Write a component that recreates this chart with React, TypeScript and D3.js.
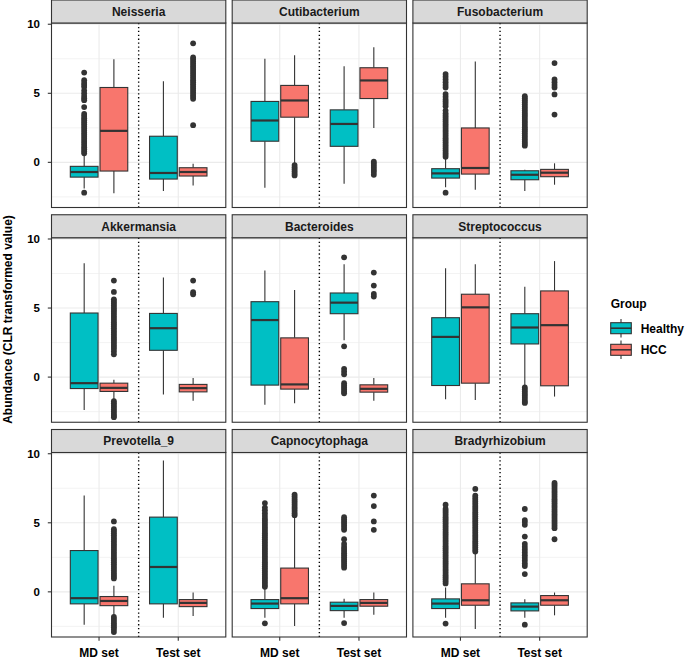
import React from "react";
import * as d3 from "d3";

// facet titles, x categories and fill groups
const genera = [
  "Neisseria",
  "Cutibacterium",
  "Fusobacterium",
  "Akkermansia",
  "Bacteroides",
  "Streptococcus",
  "Prevotella_9",
  "Capnocytophaga",
  "Bradyrhizobium",
];
const sets = ["MD set", "Test set"];
const groups = ["Healthy", "HCC"];
const groupColors = ["#00BFC4", "#F8766D"];
const yTicks = [0, 5, 10];
const yMinorTicks = [-2.5, 2.5, 7.5];

interface Box {
  set: number; // 0 = MD set, 1 = Test set
  group: number; // 0 = Healthy, 1 = HCC
  stats: number[]; // lower whisker, q1, median, q3, upper whisker
  out: number[];
}

const neisseria: Box[] = [
  { set: 0, group: 0, stats: [-1.9, -1.07, -0.7, -0.29, 0.55],
    out: [-2.2, 0.65, 0.8, 0.95, 1.1, 1.25, 1.4, 1.55, 1.7, 1.85, 2.0, 2.15, 2.3, 2.45, 2.6, 2.75, 2.9, 3.05, 3.2, 3.35, 3.5, 4.0, 4.5, 4.65, 4.8, 5.0, 5.2, 5.45, 5.6, 5.75, 5.95, 6.5] },
  { set: 0, group: 1, stats: [-2.23, -0.63, 2.28, 5.42, 7.46], out: [] },
  { set: 1, group: 0, stats: [-2.08, -1.21, -0.77, 1.89, 5.88], out: [] },
  { set: 1, group: 1, stats: [-1.67, -0.99, -0.7, -0.39, -0.1],
    out: [2.69, 4.6, 4.75, 4.9, 5.05, 5.2, 5.35, 5.5, 5.65, 5.8, 5.95, 6.1, 6.25, 6.4, 6.55, 6.7, 6.85, 7.0, 7.15, 7.3, 7.45, 7.6, 8.62] },
];

const cutibacterium: Box[] = [
  { set: 0, group: 0, stats: [-1.84, 1.53, 3.03, 4.41, 7.51], out: [] },
  { set: 0, group: 1, stats: [-0.05, 3.27, 4.48, 5.57, 7.75],
    out: [-0.2, -0.35, -0.5, -0.65, -0.8, -0.95] },
  { set: 1, group: 0, stats: [-1.55, 1.16, 2.78, 3.8, 6.95], out: [] },
  { set: 1, group: 1, stats: [2.49, 4.62, 5.93, 6.85, 8.33],
    out: [0.05, -0.1, -0.25, -0.4, -0.55, -0.7, -0.9] },
];

const fusobacterium: Box[] = [
  { set: 0, group: 0, stats: [-1.8, -1.14, -0.8, -0.46, 0.3],
    out: [-2.2, 0.4, 0.55, 0.7, 0.85, 1.0, 1.15, 1.3, 1.45, 1.6, 1.75, 1.9, 2.05, 2.2, 2.35, 2.5, 2.65, 2.8, 2.95, 3.1, 3.25, 3.4, 3.55, 3.75, 4.07, 4.25, 4.4, 4.55, 4.75, 4.94, 5.42, 5.6, 5.8, 6.0, 6.2, 6.39] },
  { set: 0, group: 1, stats: [-1.99, -0.85, -0.41, 2.49, 7.31], out: [] },
  { set: 1, group: 0, stats: [-2.08, -1.26, -0.9, -0.61, -0.53],
    out: [1.21, 1.35, 1.5, 1.65, 1.8, 1.95, 2.1, 2.25, 2.4, 2.55, 2.7, 2.85, 3.0, 3.15, 3.3, 3.45, 3.6, 3.75, 3.9, 4.05, 4.2, 4.35, 4.5, 4.65, 4.79] },
  { set: 1, group: 1, stats: [-1.62, -1.04, -0.75, -0.51, -0.07],
    out: [3.46, 4.92, 5.42, 5.6, 5.8, 6.0, 7.19] },
];

const akkermansia: Box[] = [
  { set: 0, group: 0, stats: [-2.38, -0.83, -0.44, 4.64, 8.25], out: [] },
  { set: 0, group: 1, stats: [-1.6, -1.04, -0.78, -0.44, -0.19],
    out: [6.99, 6.17, 5.63, 5.48, 5.33, 5.18, 5.03, 4.88, 4.73, 4.58, 4.43, 4.28, 4.13, 3.98, 3.83, 3.68, 3.53, 3.38, 3.23, 3.08, 2.93, 2.78, 2.63, 2.48, 2.33, 2.18, 2.03, 1.85, 1.65,
      -1.75, -1.9, -2.05, -2.2, -2.35, -2.5, -2.65, -2.8, -2.9] },
  { set: 1, group: 0, stats: [-1.26, 1.94, 3.54, 4.61, 7.21], out: [] },
  { set: 1, group: 1, stats: [-1.72, -1.07, -0.8, -0.53, -0.07],
    out: [6.0, 6.15, 6.99] },
];

const bacteroides: Box[] = [
  { set: 0, group: 0, stats: [-2.01, -0.58, 4.13, 5.46, 7.72], out: [] },
  { set: 0, group: 1, stats: [-1.89, -0.87, -0.53, 2.84, 6.31], out: [] },
  { set: 1, group: 0, stats: [2.67, 4.59, 5.39, 6.09, 8.18],
    out: [8.67, 2.23, 0.6, 0.4, 0.2, -0.44, -0.6, -0.75, -0.9, -1.05, -1.17] },
  { set: 1, group: 1, stats: [-1.72, -1.09, -0.85, -0.56, -0.07],
    out: [7.57, 6.63, 6.02, 5.83] },
];

const streptococcus: Box[] = [
  { set: 0, group: 0, stats: [-1.6, -0.61, 2.91, 4.3, 7.89], out: [] },
  { set: 0, group: 1, stats: [-1.65, -0.44, 5.05, 6.0, 8.18], out: [] },
  { set: 1, group: 0, stats: [-0.6, 2.4, 3.59, 4.59, 6.55],
    out: [-0.75, -0.9, -1.05, -1.2, -1.35, -1.5, -1.65, -1.8, -1.87] },
  { set: 1, group: 1, stats: [-1.41, -0.63, 3.76, 6.24, 8.4], out: [] },
];

const prevotella9: Box[] = [
  { set: 0, group: 0, stats: [-2.38, -0.87, -0.46, 2.99, 6.97], out: [] },
  { set: 0, group: 1, stats: [-1.7, -1.0, -0.66, -0.34, 0.44],
    out: [5.1, 4.54, 4.39, 4.24, 4.09, 3.94, 3.79, 3.64, 3.49, 3.34, 3.19, 3.04, 2.89, 2.74, 2.59, 2.44, 2.29, 2.14, 1.99, 1.84, 1.69, 1.54, 1.39, 1.24, 1.1, 0.97,
      -1.82, -1.97, -2.12, -2.27, -2.42, -2.57, -2.72, -2.91] },
  { set: 1, group: 0, stats: [-1.87, -0.87, 1.8, 5.41, 9.51], out: [] },
  { set: 1, group: 1, stats: [-1.75, -1.07, -0.8, -0.56, -0.05], out: [] },
];

const capnocytophaga: Box[] = [
  { set: 0, group: 0, stats: [-1.87, -1.21, -0.85, -0.56, 0.2],
    out: [-2.28, 0.36, 0.5, 0.65, 0.8, 0.95, 1.1, 1.25, 1.4, 1.55, 1.7, 1.85, 2.0, 2.15, 2.3, 2.45, 2.6, 2.75, 2.9, 3.05, 3.2, 3.35, 3.5, 3.65, 3.8, 3.95, 4.1, 4.25, 4.4, 4.55, 4.7, 4.85, 5.0, 5.15, 5.3, 5.5, 5.7, 5.9, 6.1, 6.43] },
  { set: 0, group: 1, stats: [-2.48, -0.87, -0.46, 1.72, 5.41],
    out: [5.55, 5.7, 5.85, 6.0, 6.15, 6.3, 6.45, 6.6, 6.75, 6.9, 7.04] },
  { set: 1, group: 0, stats: [-1.87, -1.36, -1.02, -0.75, -0.5],
    out: [-2.26, 1.75, 1.9, 2.05, 2.2, 2.35, 2.5, 2.65, 2.8, 2.95, 3.1, 3.25, 3.47, 3.81, 4.49, 4.65, 4.8, 4.95, 5.1, 5.25, 5.41] },
  { set: 1, group: 1, stats: [-1.65, -1.04, -0.8, -0.56, -0.05],
    out: [4.49, 5.1, 6.21, 6.97] },
];

const bradyrhizobium: Box[] = [
  { set: 0, group: 0, stats: [-1.87, -1.21, -0.85, -0.51, 0.32],
    out: [-2.3, 0.61, 0.76, 0.91, 1.06, 1.21, 1.36, 1.51, 1.66, 1.81, 1.96, 2.11, 2.26, 2.41, 2.56, 2.71, 2.86, 3.01, 3.16, 3.31, 3.46, 3.61, 3.76, 3.91, 4.06, 4.21, 4.36, 4.51, 4.66, 4.81, 4.96, 5.11, 5.26, 5.41, 5.56, 5.71, 5.86, 6.0, 6.31] },
  { set: 0, group: 1, stats: [-2.69, -0.97, -0.61, 0.58, 2.79],
    out: [2.92, 3.07, 3.22, 3.37, 3.52, 3.67, 3.82, 3.97, 4.12, 4.27, 4.42, 4.57, 4.72, 4.87, 5.02, 5.17, 5.32, 5.47, 5.62, 5.77, 5.92, 6.07, 6.22, 6.37, 6.52, 6.67, 6.82, 6.97, 7.45] },
  { set: 1, group: 0, stats: [-1.87, -1.38, -1.07, -0.8, -0.53],
    out: [-2.38, 1.29, 1.87, 2.05, 2.25, 2.45, 2.65, 2.85, 3.05, 3.25, 3.47, 4.0, 4.85, 5.05, 5.2, 6.0] },
  { set: 1, group: 1, stats: [-1.7, -0.97, -0.61, -0.27, -0.05],
    out: [3.81, 4.61, 4.76, 4.91, 5.06, 5.21, 5.36, 5.51, 5.66, 5.81, 5.96, 6.11, 6.26, 6.41, 6.56, 6.71, 6.86, 7.01, 7.16, 7.31, 7.46, 7.61, 7.76, 7.89] },
];

const panels = [
  neisseria, cutibacterium, fusobacterium,
  akkermansia, bacteroides, streptococcus,
  prevotella9, capnocytophaga, bradyrhizobium,
];

const W = 685;
const H = 664;
const panelLeft0 = 51.5;
const panelPitchX = 180.7;
const panelW = 174.3;
const panelTop0 = 23;
const panelPitchY = 214.75;
const panelH = 184.5;
const stripH = 23;
const font = "'Liberation Sans', Arial, Helvetica, sans-serif";
const dark = "#333333";

const Panel = ({ idx }: { idx: number }) => {
  const col = idx % 3;
  const row = Math.floor(idx / 3);
  const left = panelLeft0 + col * panelPitchX;
  const top = panelTop0 + row * panelPitchY;
  const x = d3.scaleLinear().domain([0.4, 2.6]).range([left, left + panelW]);
  const y = d3.scaleLinear().domain([-3.27, 10.09]).range([top + panelH, top]);
  const halfBox = x(0.175) - x(0);
  const dodge = 0.1875;

  return (
    <g>
      <rect x={left} y={top} width={panelW} height={panelH} fill="#fff" />
      {yMinorTicks.map((t) => (
        <line key={"mn" + t} x1={left} x2={left + panelW} y1={y(t)} y2={y(t)} stroke="#EBEBEB" strokeWidth={0.6} />
      ))}
      {yTicks.map((t) => (
        <line key={"mj" + t} x1={left} x2={left + panelW} y1={y(t)} y2={y(t)} stroke="#EBEBEB" strokeWidth={1.1} />
      ))}
      {sets.map((s, i) => (
        <line key={s} x1={x(i + 1)} x2={x(i + 1)} y1={top} y2={top + panelH} stroke="#EBEBEB" strokeWidth={1.1} />
      ))}
      <line x1={x(1.5)} x2={x(1.5)} y1={top} y2={top + panelH} stroke="#000" strokeWidth={1.4} strokeDasharray="1.3,2.6" />
      {panels[idx].map((b, bi) => {
        const cx = x(b.set + 1 + (b.group === 0 ? -dodge : dodge));
        const [lo, q1, med, q3, hi] = b.stats;
        return (
          <g key={bi}>
            <line x1={cx} x2={cx} y1={y(hi)} y2={y(q3)} stroke={dark} strokeWidth={1.1} />
            <line x1={cx} x2={cx} y1={y(q1)} y2={y(lo)} stroke={dark} strokeWidth={1.1} />
            <rect
              x={cx - halfBox}
              y={y(q3)}
              width={halfBox * 2}
              height={y(q1) - y(q3)}
              fill={groupColors[b.group]}
              stroke={dark}
              strokeWidth={1.1}
            />
            <line x1={cx - halfBox} x2={cx + halfBox} y1={y(med)} y2={y(med)} stroke={dark} strokeWidth={2.2} />
            {b.out.map((v, oi) => (
              <circle key={oi} cx={cx} cy={y(v)} r={2.9} fill={dark} />
            ))}
          </g>
        );
      })}
      <rect x={left} y={top} width={panelW} height={panelH} fill="none" stroke={dark} strokeWidth={1.1} />
      <rect x={left} y={top - stripH} width={panelW} height={stripH} fill="#D9D9D9" stroke={dark} strokeWidth={1.1} />
      <text
        x={left + panelW / 2}
        y={top - stripH / 2 + 4.3}
        textAnchor="middle"
        fontSize={12}
        fontWeight="bold"
        fill="#1a1a1a"
      >
        {genera[idx]}
      </text>
      {col === 0 &&
        yTicks.map((t) => (
          <g key={"yt" + t}>
            <line x1={left - 3.7} x2={left} y1={y(t)} y2={y(t)} stroke={dark} strokeWidth={1.1} />
            <text x={left - 11.5} y={y(t) + 4} textAnchor="end" fontSize={11.5} fontWeight="bold" fill="#000">
              {t}
            </text>
          </g>
        ))}
      {row === 2 &&
        sets.map((s, i) => (
          <g key={"xt" + s}>
            <line x1={x(i + 1)} x2={x(i + 1)} y1={top + panelH} y2={top + panelH + 3.7} stroke={dark} strokeWidth={1.1} />
            <text x={x(i + 1)} y={top + panelH + 20} textAnchor="middle" fontSize={12} fontWeight="bold" fill="#000">
              {s}
            </text>
          </g>
        ))}
    </g>
  );
};

const Legend = () => {
  const keyX = 610.7;
  const keyW = 20.6;
  const centers = [328.2, 349.8];
  return (
    <g>
      <text x={610.7} y={308} fontSize={12} fontWeight="bold" fill="#000">
        Group
      </text>
      {groups.map((g, i) => {
        const cy = centers[i];
        const cx = keyX + keyW / 2;
        return (
          <g key={g}>
            <line x1={cx} x2={cx} y1={cy - 9.3} y2={cy + 9.3} stroke={dark} strokeWidth={1.1} />
            <rect x={keyX} y={cy - 5.5} width={keyW} height={11} fill={groupColors[i]} stroke={dark} strokeWidth={1.1} />
            <line x1={keyX} x2={keyX + keyW} y1={cy} y2={cy} stroke={dark} strokeWidth={1.6} />
            <text x={640.7} y={cy + 4.5} fontSize={12} fontWeight="bold" fill="#000">
              {g}
            </text>
          </g>
        );
      })}
    </g>
  );
};

export default function App() {
  return (
    <svg
      width={W}
      height={H}
      style={{ position: "absolute", left: 0, top: 0, background: "#fff" }}
      fontFamily={font}
    >
      {genera.map((g, i) => (
        <Panel key={g} idx={i} />
      ))}
      <text
        transform={`translate(12,319.5) rotate(-90)`}
        textAnchor="middle"
        fontSize={12}
        fontWeight="bold"
        fill="#000"
      >
        Abundance (CLR transformed value)
      </text>
      <Legend />
    </svg>
  );
}
